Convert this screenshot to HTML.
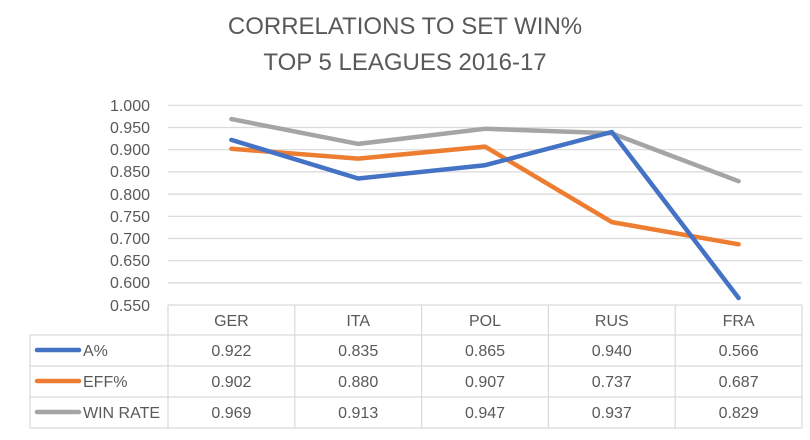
<!DOCTYPE html>
<html><head><style>
body{margin:0;background:#fff;}
text{font-family:"Liberation Sans",sans-serif;}
</style></head><body>
<svg width="810" height="435" xmlns="http://www.w3.org/2000/svg">
<rect width="810" height="435" fill="#fff"/>
<text x="405" y="34" text-anchor="middle" font-size="24" fill="#595959">CORRELATIONS TO SET WIN%</text>
<text x="405" y="70" text-anchor="middle" font-size="24" fill="#595959">TOP 5 LEAGUES 2016-17</text>
<g stroke="#d9d9d9" stroke-width="1.2">
<line x1="168" x2="802" y1="105.3" y2="105.3"/>
<line x1="168" x2="802" y1="127.5" y2="127.5"/>
<line x1="168" x2="802" y1="149.7" y2="149.7"/>
<line x1="168" x2="802" y1="171.9" y2="171.9"/>
<line x1="168" x2="802" y1="194.1" y2="194.1"/>
<line x1="168" x2="802" y1="216.3" y2="216.3"/>
<line x1="168" x2="802" y1="238.5" y2="238.5"/>
<line x1="168" x2="802" y1="260.7" y2="260.7"/>
<line x1="168" x2="802" y1="282.9" y2="282.9"/>
</g>
<g font-size="16" fill="#595959" text-anchor="end">
<text x="150" y="111">1.000</text><text x="150" y="133">0.950</text><text x="150" y="155">0.900</text><text x="150" y="177">0.850</text><text x="150" y="200">0.800</text><text x="150" y="222">0.750</text><text x="150" y="244">0.700</text><text x="150" y="266">0.650</text><text x="150" y="288">0.600</text><text x="150" y="311">0.550</text>
</g>
<g fill="none" stroke-width="4.5" stroke-linejoin="round" stroke-linecap="round">
<polyline stroke="#a5a5a5" points="231.4,119.1 358.2,143.9 485,128.8 611.8,133.3 738.6,181.2"/>
<polyline stroke="#ed7d31" points="231.4,148.8 358.2,158.6 485,146.6 611.8,222.1 738.6,244.3"/>
<polyline stroke="#4472c4" points="231.4,139.9 358.2,178.5 485,165.2 611.8,132.0 738.6,298.0"/>
</g>
<g stroke="#d9d9d9" stroke-width="1.2" fill="none">
<line x1="168" y1="305" x2="802" y2="305"/>
<line x1="30" y1="335" x2="802" y2="335"/>
<line x1="30" y1="366" x2="802" y2="366"/>
<line x1="30" y1="397" x2="802" y2="397"/>
<line x1="30" y1="428" x2="802" y2="428"/>
<line x1="30" y1="335" x2="30" y2="428"/>
<line x1="168" y1="305" x2="168" y2="428"/>
<line x1="294.8" y1="305" x2="294.8" y2="428"/>
<line x1="421.6" y1="305" x2="421.6" y2="428"/>
<line x1="548.4" y1="305" x2="548.4" y2="428"/>
<line x1="675.2" y1="305" x2="675.2" y2="428"/>
<line x1="802" y1="305" x2="802" y2="428"/>
</g>
<g stroke-width="4.5" stroke-linecap="round">
<line x1="37" x2="79" y1="350" y2="350" stroke="#4472c4"/>
<line x1="37" x2="79" y1="381" y2="381" stroke="#ed7d31"/>
<line x1="37" x2="79" y1="412" y2="412" stroke="#a5a5a5"/>
</g>
<g font-size="16" fill="#595959">
<text x="83" y="356">A%</text><text x="83" y="387">EFF%</text><text x="83" y="418">WIN RATE</text>
</g>
<g font-size="16" fill="#595959" text-anchor="middle">
<text x="231.4" y="326">GER</text><text x="358.2" y="326">ITA</text><text x="485" y="326">POL</text><text x="611.8" y="326">RUS</text><text x="738.6" y="326">FRA</text>
<text x="231.4" y="356">0.922</text><text x="358.2" y="356">0.835</text><text x="485" y="356">0.865</text><text x="611.8" y="356">0.940</text><text x="738.6" y="356">0.566</text>
<text x="231.4" y="387">0.902</text><text x="358.2" y="387">0.880</text><text x="485" y="387">0.907</text><text x="611.8" y="387">0.737</text><text x="738.6" y="387">0.687</text>
<text x="231.4" y="418">0.969</text><text x="358.2" y="418">0.913</text><text x="485" y="418">0.947</text><text x="611.8" y="418">0.937</text><text x="738.6" y="418">0.829</text>
</g>
</svg>
</body></html>
